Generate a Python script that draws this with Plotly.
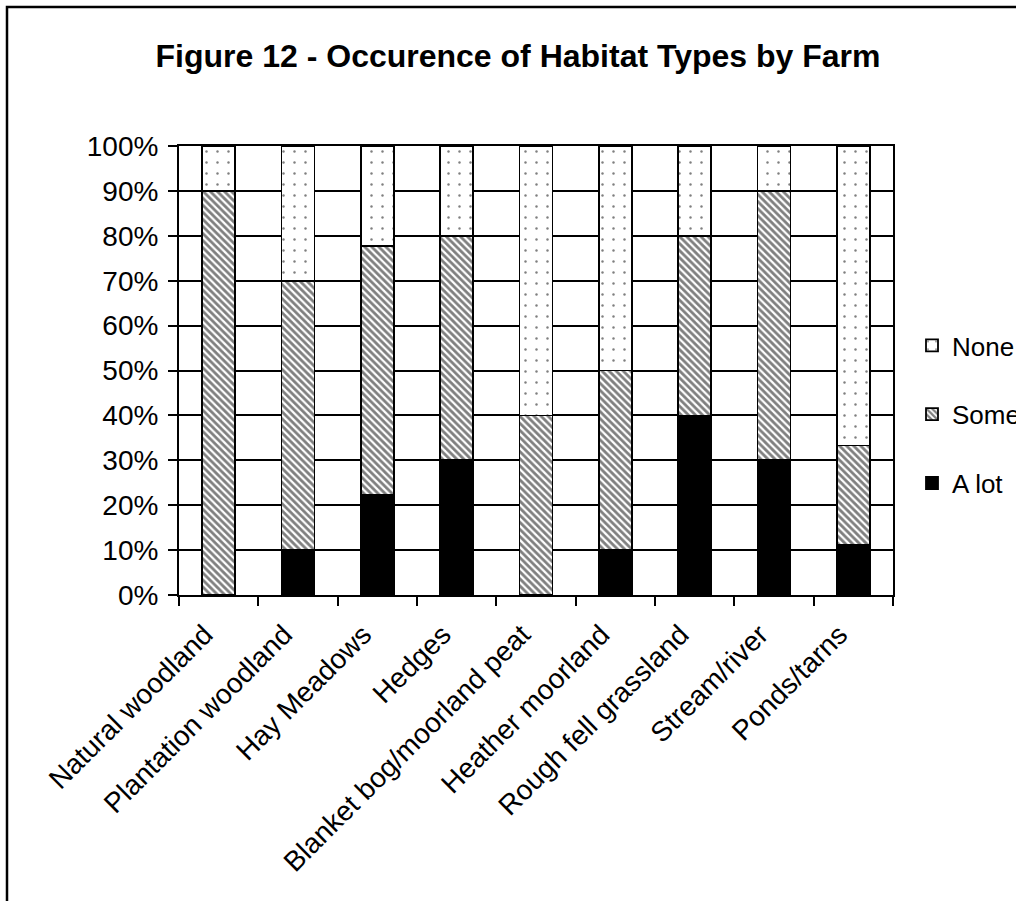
import plotly.graph_objects as go

# Habitat categories and the share of farms in each occurrence class
habitats = [
    "Natural woodland", "Plantation woodland", "Hay Meadows", "Hedges",
    "Blanket bog/moorland peat", "Heather moorland", "Rough fell grassland",
    "Stream/river", "Ponds/tarns",
]
a_lot = [0.0, 10.0, 22.2, 30.0, 0.0, 10.0, 40.0, 30.0, 11.1]
some = [90.0, 60.0, 55.6, 50.0, 40.0, 40.0, 40.0, 60.0, 22.2]
none = [10.0, 30.0, 22.2, 20.0, 60.0, 50.0, 20.0, 10.0, 66.7]

y_ticks = [0, 0.1, 0.2, 0.3, 0.4, 0.5, 0.6, 0.7, 0.8, 0.9, 1.0]

FONT = "Arial, Liberation Sans, sans-serif"
W, H = 1016, 901
L, R, T, B = 179, 123, 146, 306
pw, ph = W - L - R, H - T - B

line = dict(color="black", width=1.8)

fig = go.Figure()
fig.add_trace(go.Bar(
    x=habitats, y=[v / 100 for v in a_lot], name="A lot", legendgroup="a",
    legendrank=3,
    marker=dict(color="black", line=line),
))
fig.add_trace(go.Bar(
    x=habitats, y=[v / 100 for v in some], name="Some", legendgroup="s",
    legendrank=2,
    marker=dict(color="white", line=line,
                pattern=dict(shape="\\", size=5, solidity=0.55,
                             fgcolor="black", bgcolor="white", fillmode="overlay")),
))
fig.add_trace(go.Bar(
    x=habitats, y=[v / 100 for v in none], name="None", legendgroup="n",
    legendrank=1,
    marker=dict(color="white", line=line,
                pattern=dict(shape=".", size=11, solidity=0.04,
                             fgcolor="black", bgcolor="white", fillmode="overlay")),
))

# outer frame around the whole chart
fig.add_shape(
    type="rect", xref="paper", yref="paper",
    x0=(7 - L) / pw, x1=(W + 20 - L) / pw,
    y0=(H - B - (H + 20)) / ph, y1=(H - B - 7) / ph,
    line=dict(color="black", width=2.5), fillcolor="rgba(0,0,0,0)", layer="above",
)

fig.update_layout(
    width=W, height=H,
    margin=dict(l=L, r=R, t=T, b=B, autoexpand=False),
    paper_bgcolor="white", plot_bgcolor="white",
    barmode="stack", bargap=0.584,
    font=dict(family=FONT, color="black", size=26),
    title=dict(
        text="Figure 12 - Occurence of Habitat Types by Farm",
        font=dict(family=FONT, size=32, color="black", weight="bold"),
        x=518 / W, xanchor="center", xref="container",
        y=1 - 56 / H, yanchor="middle", yref="container",
    ),
    legend=dict(
        traceorder="grouped", tracegroupgap=32,
        x=(912 - L) / pw, xanchor="left",
        y=(H - B - 322) / ph, yanchor="top",
        font=dict(family=FONT, size=26, color="black"),
        bgcolor="rgba(0,0,0,0)", itemwidth=30,
    ),
    showlegend=True,
)

fig.update_xaxes(
    type="category", showline=True, linecolor="black", linewidth=2, mirror=True,
    ticks="outside", tickson="boundaries", ticklen=9, tickwidth=2, tickcolor="black",
    tickangle=-45, tickfont=dict(family=FONT, size=28, color="black"),
    ticklabelstandoff=10, ticklabelshift=-14,
    showgrid=False,
)
fig.update_yaxes(
    range=[0, 1], tickvals=y_ticks, tickformat=".0%",
    showline=True, linecolor="black", linewidth=2, mirror=True,
    ticks="outside", ticklen=9, tickwidth=2, tickcolor="black",
    showgrid=True, gridcolor="black", gridwidth=1.5,
    tickfont=dict(family=FONT, size=28, color="black"),
    ticklabelstandoff=4,
    zeroline=False,
)

fig.write_html("out.html")
